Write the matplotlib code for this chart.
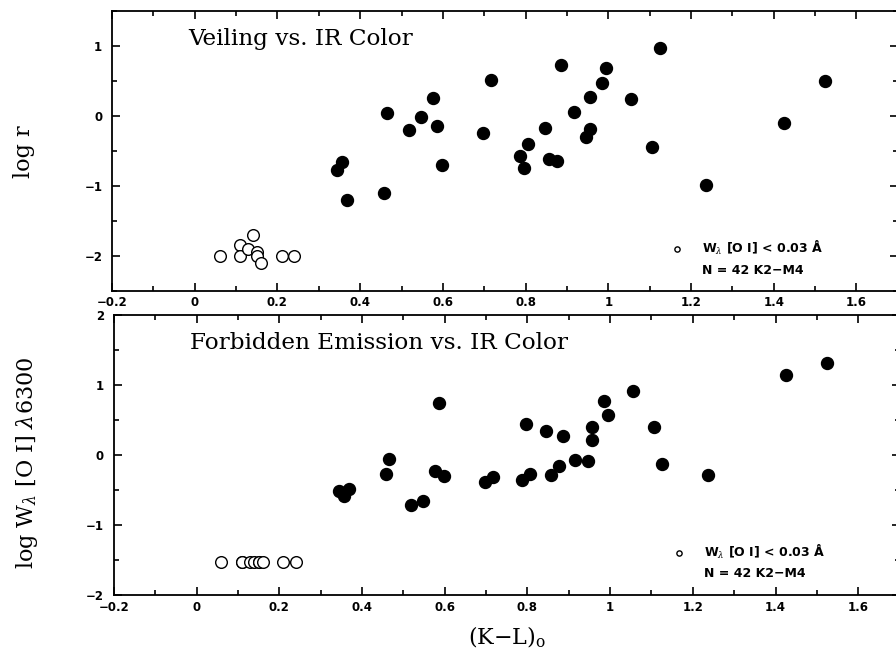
import matplotlib
matplotlib.use('Agg')
import matplotlib.pyplot as plt
from matplotlib.lines import Line2D
from matplotlib.ticker import MultipleLocator, FuncFormatter

# (K-L)o colour of the stars with detected [O I] emission
kl = [0.345, 0.357, 0.368, 0.457, 0.466, 0.518, 0.548, 0.577, 0.587, 0.598,
      0.697, 0.717, 0.787, 0.797, 0.807, 0.846, 0.856, 0.876, 0.886, 0.916,
      0.946, 0.956, 0.956, 0.985, 0.995, 1.055, 1.106, 1.125, 1.236, 1.425, 1.525]
log_r = [-0.77, -0.66, -1.21, -1.10, 0.04, -0.21, -0.02, 0.26, -0.14, -0.70,
         -0.24, 0.51, -0.58, -0.74, -0.40, -0.17, -0.62, -0.65, 0.72, 0.05,
         -0.30, -0.19, 0.27, 0.47, 0.68, 0.24, -0.44, 0.97, -0.99, -0.10, 0.49]
log_w = [-0.51, -0.58, -0.49, -0.27, -0.06, -0.71, -0.65, -0.23, 0.74, -0.30,
         -0.38, -0.31, -0.35, 0.45, -0.27, 0.34, -0.29, -0.15, 0.27, -0.07,
         -0.09, 0.22, 0.40, 0.77, 0.57, 0.91, 0.40, -0.13, -0.29, 1.14, 1.31]

# stars with W[O I] < 0.03 A (upper limits)
kl_open = [0.06, 0.11, 0.11, 0.13, 0.14, 0.15, 0.15, 0.16, 0.21, 0.24]
log_r_open = [-2.0, -1.85, -2.0, -1.90, -1.70, -1.95, -2.0, -2.10, -2.0, -2.0]
log_w_open = [-1.52] * 10

legend_labels = [r'W$_\lambda$ [O I] < 0.03 Å', 'N = 42 K2\u2212M4']

plt.rcParams['font.family'] = 'DejaVu Sans'
plt.rcParams['mathtext.fontset'] = 'dejavuserif'

serif = dict(family='DejaVu Serif')


def minus_fmt(v, pos):
    return ('%g' % round(v, 3)).replace('-', '\u2212')


def style_axes(ax, ylim):
    ax.set_xlim(-0.2, 1.7)
    ax.set_ylim(*ylim)
    ax.xaxis.set_major_locator(MultipleLocator(0.2))
    ax.xaxis.set_minor_locator(MultipleLocator(0.1))
    ax.yaxis.set_major_locator(MultipleLocator(1))
    ax.yaxis.set_minor_locator(MultipleLocator(0.5))
    ax.xaxis.set_major_formatter(FuncFormatter(minus_fmt))
    ax.yaxis.set_major_formatter(FuncFormatter(minus_fmt))
    ax.tick_params(which='both', direction='in', top=True, right=True,
                   width=1.2, labelsize=8.5)
    ax.tick_params(which='major', length=6)
    ax.tick_params(which='minor', length=3.5)
    ax.tick_params(axis='x', pad=4)
    ax.tick_params(axis='y', pad=7)
    for lab in ax.get_xticklabels() + ax.get_yticklabels():
        lab.set_fontweight('bold')
    for s in ax.spines.values():
        s.set_linewidth(1.3)


def panel(ax, y_fill, y_open, title, legend_xy):
    ax.plot(kl, y_fill, 'o', color='black', markersize=8.6, linestyle='none')
    hollow, = ax.plot(kl_open, y_open, 'o', mfc='white', mec='black', mew=1.0,
                      markersize=8.4, linestyle='none')
    ax.text(0.097, 0.90, title, transform=ax.transAxes, fontsize=16.7,
            va='center', ha='left', **serif)
    blank = Line2D([], [], linestyle='none')
    ax.legend([hollow, blank], legend_labels, loc='center left',
              bbox_to_anchor=legend_xy, frameon=False, markerscale=0.45,
              handlelength=0.8, handletextpad=1.6, labelspacing=0.5,
              borderpad=0, borderaxespad=0,
              prop=dict(size=9, weight='bold'))


fig = plt.figure(figsize=(8.96, 6.49), dpi=100)
ax1 = fig.add_axes([0.125, 0.552, 0.877, 0.4314])
ax2 = fig.add_axes([0.127, 0.0827, 0.877, 0.432])

style_axes(ax1, (-2.5, 1.5))
style_axes(ax2, (-2, 2))

panel(ax1, log_r, log_r_open, 'Veiling vs. IR Color', (0.7125, 0.117))
panel(ax2, log_w, log_w_open, 'Forbidden Emission vs. IR Color', (0.7125, 0.12))

ax1.set_ylabel('log r', fontsize=16, va='center', **serif)
ax1.yaxis.set_label_coords(-0.112, 0.495)
ax2.set_ylabel(r'log W$_\lambda$ [O I] $\lambda$6300', fontsize=16,
               va='center', **serif)
ax2.yaxis.set_label_coords(-0.110, 0.472)
ax2.set_xlabel('(K\u2212L)$_\\mathrm{o}$', fontsize=16, va='center', **serif)
ax2.xaxis.set_label_coords(0.5, -0.149)

fig.savefig('out.png', dpi=100)
